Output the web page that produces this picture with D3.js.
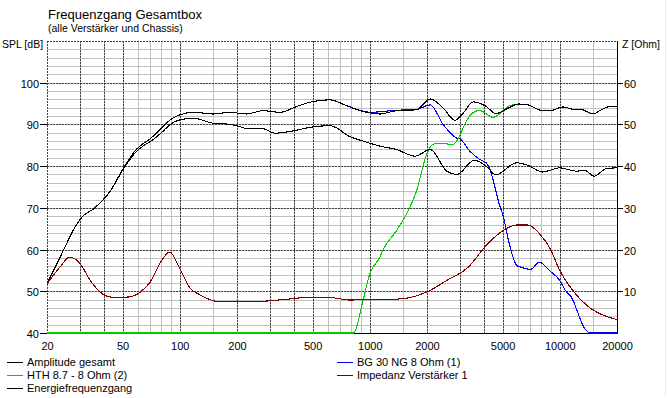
<!DOCTYPE html>
<html>
<head>
<meta charset="utf-8">
<script src="https://cdn.jsdelivr.net/npm/d3@7"></script>
<style>
  body { margin: 0; background: #fff; }
  svg text { font-family: Arial, "Liberation Sans", sans-serif; fill: #000; }
</style>
</head>
<body>
<div id="chart"></div>
<script>
// labels
const titleText = "Frequenzgang Gesamtbox";
const subtitleText = "(alle Verstärker und Chassis)";
const leftAxisLabel = "SPL [dB]";
const rightAxisLabel = "Z [Ohm]";

// ticks & grid
const freqTicks = [20, 50, 100, 200, 500, 1000, 2000, 5000, 10000, 20000];
const splTicks = [40, 50, 60, 70, 80, 90, 100];
const zTicks = [10, 20, 30, 40, 50, 60];
const darkGridFreqs = [30, 40, 50, 100, 200, 300, 400, 500, 1000, 2000, 3000, 4000, 5000, 10000];
const lightGridFreqs = [60, 70, 80, 90, 150, 600, 700, 800, 900, 1500, 6000, 7000, 8000, 9000, 15000];

// series: [Hz, dB] (impedance: [Hz, Ohm])
const amplitudeGesamt = [
  [20, 51.8], [24.4, 59.8], [28, 65.3], [31, 68.1], [35, 69.7], [43, 74], [50.6, 79.6],
  [59, 84], [65, 85.6], [70, 86.6], [78.6, 88.8], [88.5, 91], [100, 92.3], [118, 92.9],
  [150, 92.5], [184, 92.9], [224, 92.5], [274, 93.3], [337, 92.9], [412, 94.3], [503, 95.5],
  [616, 95.9], [754, 94.5], [922, 93.1], [1000, 92.8], [1130, 92.5], [1380, 93.3], [1760, 93.5],
  [2080, 96.1], [2440, 93.9], [2800, 91.0], [3050, 92.3], [3500, 95.4], [4100, 94.3],
  [4600, 92.6], [5300, 93.8], [6050, 94.9], [6800, 94.7], [8100, 93.3], [8900, 93.3],
  [10400, 94.2], [12100, 93.5], [12800, 93.7], [15000, 92.5], [16500, 93.5], [18400, 94.3],
  [20000, 94.3]
];

const energieFrequenzgang = [
  [20, 51.8], [24.4, 59.8], [28, 65.3], [31, 68.1], [35, 69.7], [43, 74], [50.6, 79.4],
  [59, 83.5], [65, 85], [72, 86.3], [80, 88], [88.5, 89.9], [100, 91.1], [118, 91.5],
  [150, 90.3], [169, 90.2], [207, 89.5], [224, 89], [274, 89], [316, 87.9], [380, 88.3],
  [485, 89.3], [616, 89.7], [680, 89.0], [754, 87.5], [922, 86], [1000, 85.5], [1130, 84.8],
  [1380, 84], [1730, 82.4], [2080, 84], [2540, 78.8], [2870, 78], [3550, 81.4], [4100, 80],
  [4600, 77.9], [5920, 80.8], [6800, 80.2], [8110, 78.6], [10000, 79.6], [12200, 78.8],
  [13500, 79], [15200, 77.6], [17500, 79.4], [20000, 79.6]
];

const hth87 = [
  [20, 40], [821, 40], [922, 47.9], [1000, 54.2], [1130, 58.2], [1170, 59.8], [1380, 64.5],
  [1620, 70], [1760, 74], [1990, 82.8], [2150, 85.2], [2290, 85.5], [2740, 85.2], [2990, 87.5],
  [3090, 89.1], [3630, 93.2], [3790, 93.3], [4450, 91.7], [5450, 94.5], [6050, 94.9],
  [6800, 94.7], [8100, 93.3], [8900, 93.3], [10400, 94.2], [12100, 93.5], [12800, 93.6],
  [15000, 92.5], [16500, 93.5], [18400, 94.3], [20000, 94.3]
];

const bg30ng = [
  [20, 51.8], [24.4, 59.8], [28, 65.3], [31, 68.1], [35, 69.7], [43, 74], [50.6, 79.6],
  [59, 84], [65, 85.6], [70, 86.6], [78.6, 88.8], [88.5, 91], [100, 92.3], [118, 92.9],
  [150, 92.5], [184, 92.9], [224, 92.5], [274, 93.3], [337, 92.9], [412, 94.3], [503, 95.5],
  [616, 95.9], [754, 94.5], [922, 93.2], [1000, 92.9], [1380, 93.4], [1760, 93.6],
  [2080, 94.7], [2440, 89.9], [2870, 86.7], [2990, 86.5], [3360, 83.6], [3790, 81.6],
  [4100, 80.8], [4290, 79.2], [4450, 76.8], [4800, 70.9], [5000, 68.5], [5450, 61],
  [5920, 56.2], [6050, 56], [6800, 55.3], [7000, 55.2], [7800, 57], [8900, 54.8],
  [10000, 52.6], [10700, 50.2], [11500, 48.6], [13500, 41.1], [14400, 40], [20000, 40]
];

const impedanz = [
  [20, 11.8], [23.4, 15.8], [26.3, 18.2], [29.9, 16.6], [33.8, 12.6], [38.1, 9.8], [43.9, 8.6],
  [52.6, 8.6], [61.9, 9.8], [69.8, 12.2], [80.3, 17.4], [88.5, 19.4], [100, 15.4], [113, 10.8],
  [127, 9.2], [144, 8], [162, 7.5], [224, 7.6], [263, 7.6], [350, 8.0], [466, 8.5], [616, 8.5],
  [784, 7.9], [922, 8], [1130, 8.1], [1360, 8.1], [1990, 9.8], [2540, 12.6], [3300, 15.8],
  [4100, 21], [5000, 24.5], [5900, 25.9], [6800, 25.9], [7850, 23.7], [8900, 20.2],
  [10000, 15], [11700, 10.2], [13800, 6.7], [15500, 5.1], [20000, 3.2]
];

const width = 667, height = 398;
const plotLeft = 47, plotRight = 617, plotTop = 41, plotBottom = 333;

const x = d3.scaleLog().domain([20, 20000]).range([plotLeft, plotRight]);
const ySpl = d3.scaleLinear().domain([40, 110]).range([plotBottom, plotTop]);
const yZ = d3.scaleLinear().domain([0, 70]).range([plotBottom, plotTop]);

const px = v => Math.round(v) + 0.5;

const svg = d3.select("#chart").append("svg")
  .attr("width", width)
  .attr("height", height);

svg.append("rect").attr("width", width).attr("height", height).attr("fill", "#fff");

// faint frame line at right edge
svg.append("line")
  .attr("x1", 665.5).attr("x2", 665.5).attr("y1", 0).attr("y2", height)
  .attr("stroke", "#e4e0c4").attr("stroke-dasharray", "1,1");

const grid = svg.append("g").attr("shape-rendering", "crispEdges");

// horizontal grid, every 2 dB
d3.range(42, 110, 2).forEach(v => {
  grid.append("line")
    .attr("x1", plotLeft).attr("x2", plotRight)
    .attr("y1", px(ySpl(v))).attr("y2", px(ySpl(v)))
    .attr("stroke", "#c0c0c0");
});
// vertical grid
lightGridFreqs.concat(darkGridFreqs).forEach(f => {
  grid.append("line")
    .attr("x1", px(x(f))).attr("x2", px(x(f)))
    .attr("y1", plotTop).attr("y2", plotBottom)
    .attr("stroke", "#c0c0c0");
});
// dark dotted lines
splTicks.concat([110]).filter(v => v > 40).forEach(v => {
  grid.append("line")
    .attr("x1", plotLeft).attr("x2", plotRight)
    .attr("y1", px(ySpl(v))).attr("y2", px(ySpl(v)))
    .attr("stroke", "#404040").attr("stroke-dasharray", "2,1");
});
darkGridFreqs.concat([20]).forEach(f => {
  grid.append("line")
    .attr("x1", px(x(f))).attr("x2", px(x(f)))
    .attr("y1", plotTop).attr("y2", plotBottom)
    .attr("stroke", "#404040").attr("stroke-dasharray", "2,1");
});

// bottom and right axis lines
grid.append("line")
  .attr("x1", plotLeft).attr("x2", plotRight + 1)
  .attr("y1", px(plotBottom)).attr("y2", px(plotBottom))
  .attr("stroke", "#000");
grid.append("line")
  .attr("x1", px(plotRight)).attr("x2", px(plotRight))
  .attr("y1", plotTop).attr("y2", plotBottom + 1)
  .attr("stroke", "#000");

// left ticks & labels
splTicks.forEach(v => {
  const yy = px(ySpl(v));
  grid.append("line").attr("x1", 40).attr("x2", plotLeft).attr("y1", yy).attr("y2", yy).attr("stroke", "#000");
  svg.append("text").attr("x", 39).attr("y", yy + 4)
    .attr("text-anchor", "end").attr("font-size", "11px").text(v);
});
// right ticks & labels
zTicks.forEach(v => {
  const yy = px(yZ(v));
  grid.append("line").attr("x1", plotRight).attr("x2", plotRight + 6).attr("y1", yy).attr("y2", yy).attr("stroke", "#000");
  svg.append("text").attr("x", 624).attr("y", yy + 4)
    .attr("font-size", "11px").text(v);
});
// bottom labels
freqTicks.forEach(f => {
  svg.append("text").attr("x", x(f) + 0.5).attr("y", 350)
    .attr("text-anchor", "middle").attr("font-size", "11px").text(f);
});

// titles
svg.append("text").attr("x", 48).attr("y", 19).attr("font-size", "13px").text(titleText);
svg.append("text").attr("x", 48).attr("y", 32).attr("font-size", "10.5px").text(subtitleText);
svg.append("text").attr("x", 2).attr("y", 48).attr("font-size", "10.5px").text(leftAxisLabel);
svg.append("text").attr("x", 622).attr("y", 48).attr("font-size", "10.5px").text(rightAxisLabel);

// curves
svg.append("clipPath").attr("id", "plot-clip")
  .append("rect").attr("x", plotLeft).attr("y", plotTop)
  .attr("width", plotRight - plotLeft + 1).attr("height", plotBottom - plotTop + 1);

const plot = svg.append("g").attr("clip-path", "url(#plot-clip)");

const splLine = d3.line().x(d => x(d[0])).y(d => ySpl(d[1])).curve(d3.curveMonotoneX);
const zLine = d3.line().x(d => x(d[0])).y(d => yZ(d[1])).curve(d3.curveMonotoneX);

const curves = [
  { data: bg30ng, gen: splLine, color: "#0000ff" },
  { data: hth87, gen: splLine, color: "#00cc00" },
  { data: energieFrequenzgang, gen: splLine, color: "#000000" },
  { data: amplitudeGesamt, gen: splLine, color: "#000000" },
  { data: impedanz, gen: zLine, color: "#800000" }
];

curves.forEach(c => {
  plot.append("path")
    .attr("d", c.gen(c.data))
    .attr("fill", "none")
    .attr("stroke", c.color)
    .attr("stroke-width", 1.1)
    .attr("shape-rendering", "crispEdges");
});

// legend
const legendItems = [
  { label: "Amplitude gesamt", color: "#000000", lx: 7, ly: 362 },
  { label: "HTH 8.7 - 8 Ohm (2)", color: "#00cc00", lx: 7, ly: 375 },
  { label: "Energiefrequenzgang", color: "#000000", lx: 7, ly: 388 },
  { label: "BG 30 NG 8 Ohm (1)", color: "#0000ff", lx: 337, ly: 362 },
  { label: "Impedanz Verstärker 1", color: "#800000", lx: 337, ly: 375 }
];

legendItems.forEach(item => {
  svg.append("line")
    .attr("x1", item.lx).attr("x2", item.lx + 16)
    .attr("y1", item.ly + 0.5).attr("y2", item.ly + 0.5)
    .attr("stroke", item.color).attr("shape-rendering", "crispEdges");
  svg.append("text")
    .attr("x", item.lx + 20).attr("y", item.ly + 4)
    .attr("font-size", "11px").text(item.label);
});
</script>
</body>
</html>
